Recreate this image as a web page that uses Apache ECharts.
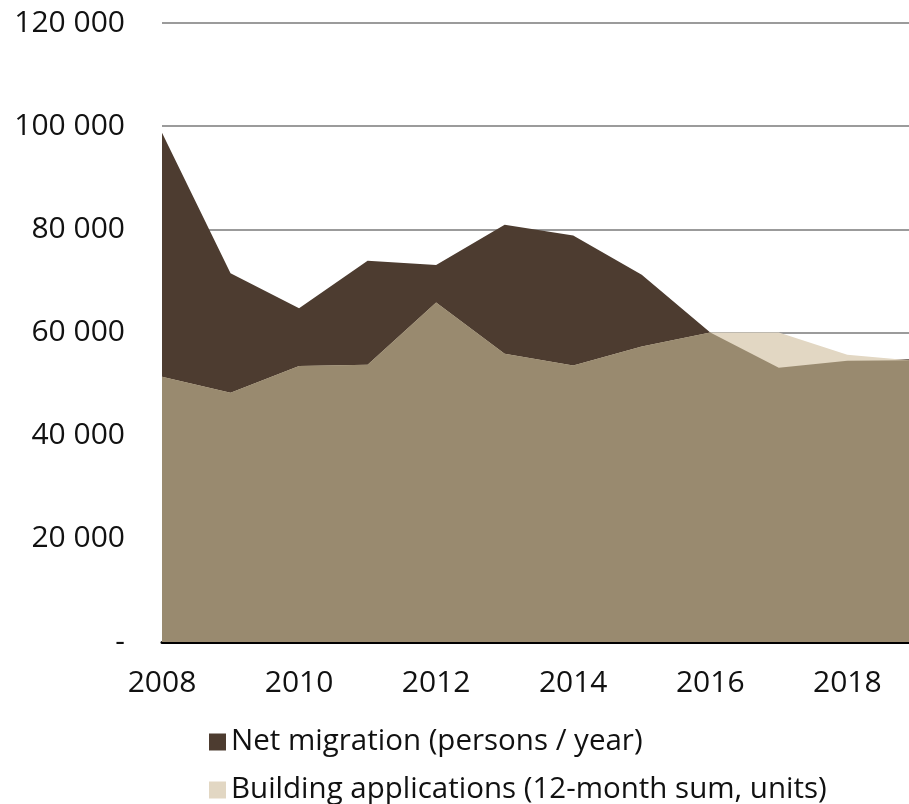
<!DOCTYPE html>
<html>
<head>
<meta charset="utf-8">
<script src="https://cdn.jsdelivr.net/npm/echarts@6/dist/echarts.min.js"></script>
<style>
html,body{margin:0;padding:0;background:#fff;}
#chart{width:909px;height:804px;}
</style>
</head>
<body>
<div id="chart"></div>
<script>
// x positions (years); last point is the latest observation
const years = [2008, 2009, 2010, 2011, 2012, 2013, 2014, 2015, 2016, 2017, 2018, 2018.9];
const netMigration = [98700, 71500, 64700, 73900, 73100, 80900, 78800, 71200, 60000, 53150, 54500, 54800];
const buildingApplications = [51400, 48300, 53500, 53750, 65800, 55900, 53600, 57300, 60000, 60000, 55700, 54600];
const yTicks = [0, 20000, 40000, 60000, 80000, 100000, 120000];
const seriesNames = ['Net migration (persons / year)', 'Building applications (12-month sum, units)'];

const colDark = '#4d3c30', colLight = '#e2d7c3', colMid = '#998a6f';

const pairs = arr => years.map((y, i) => [y, arr[i]]);
const overlap = years.map((y, i) => [y, Math.min(netMigration[i], buildingApplications[i])]);

const fmt = v => v === 0 ? '-' : String(v).replace(/\B(?=(\d{3})+(?!\d))/g, ' ');

const areaSeries = (name, data, color, z) => ({
  name, type: 'line', data, z,
  showSymbol: false, symbol: 'none', silent: true,
  lineStyle: { width: 0, color }, itemStyle: { color },
  areaStyle: { color, opacity: 1 },
  emphasis: { disabled: true }
});

const legendAt = (name, top) => ({
  data: [{ name, icon: 'rect' }],
  orient: 'vertical', left: 209, top, padding: 0,
  itemWidth: 17, itemHeight: 17,
  selectedMode: false,
  textStyle: { fontSize: 29.5, lineHeight: 17, color: '#111', fontFamily: 'Open Sans' }
});

const chart = echarts.init(document.getElementById('chart'), null, { renderer: 'canvas' });
chart.setOption({
  animation: false,
  backgroundColor: '#fff',
  textStyle: { fontFamily: 'Open Sans' },
  grid: { left: 162, right: 0, top: 23, bottom: 162, containLabel: false },
  legend: [legendAt(seriesNames[0], 727), legendAt(seriesNames[1], 775)],
  xAxis: {
    type: 'value', min: years[0], max: years[years.length - 1], interval: 2,
    axisLine: { show: true, onZero: false, lineStyle: { color: '#000', width: 3 } },
    axisTick: { show: false }, splitLine: { show: false },
    axisLabel: { fontSize: 30, color: '#111', margin: 26, formatter: v => String(v) }
  },
  yAxis: {
    type: 'value', min: yTicks[0], max: yTicks[yTicks.length - 1], interval: 20000,
    axisLine: { show: false },
    axisTick: { show: false },
    splitLine: { show: true, lineStyle: { color: '#7a7a7a', width: 1.5 } },
    axisLabel: { fontSize: 30, color: '#111', margin: 37, formatter: fmt }
  },
  series: [
    areaSeries(seriesNames[0], pairs(netMigration), colDark, 2),
    areaSeries(seriesNames[1], pairs(buildingApplications), colLight, 3),
    areaSeries('overlap', overlap, colMid, 4)
  ]
});
</script>
</body>
</html>
